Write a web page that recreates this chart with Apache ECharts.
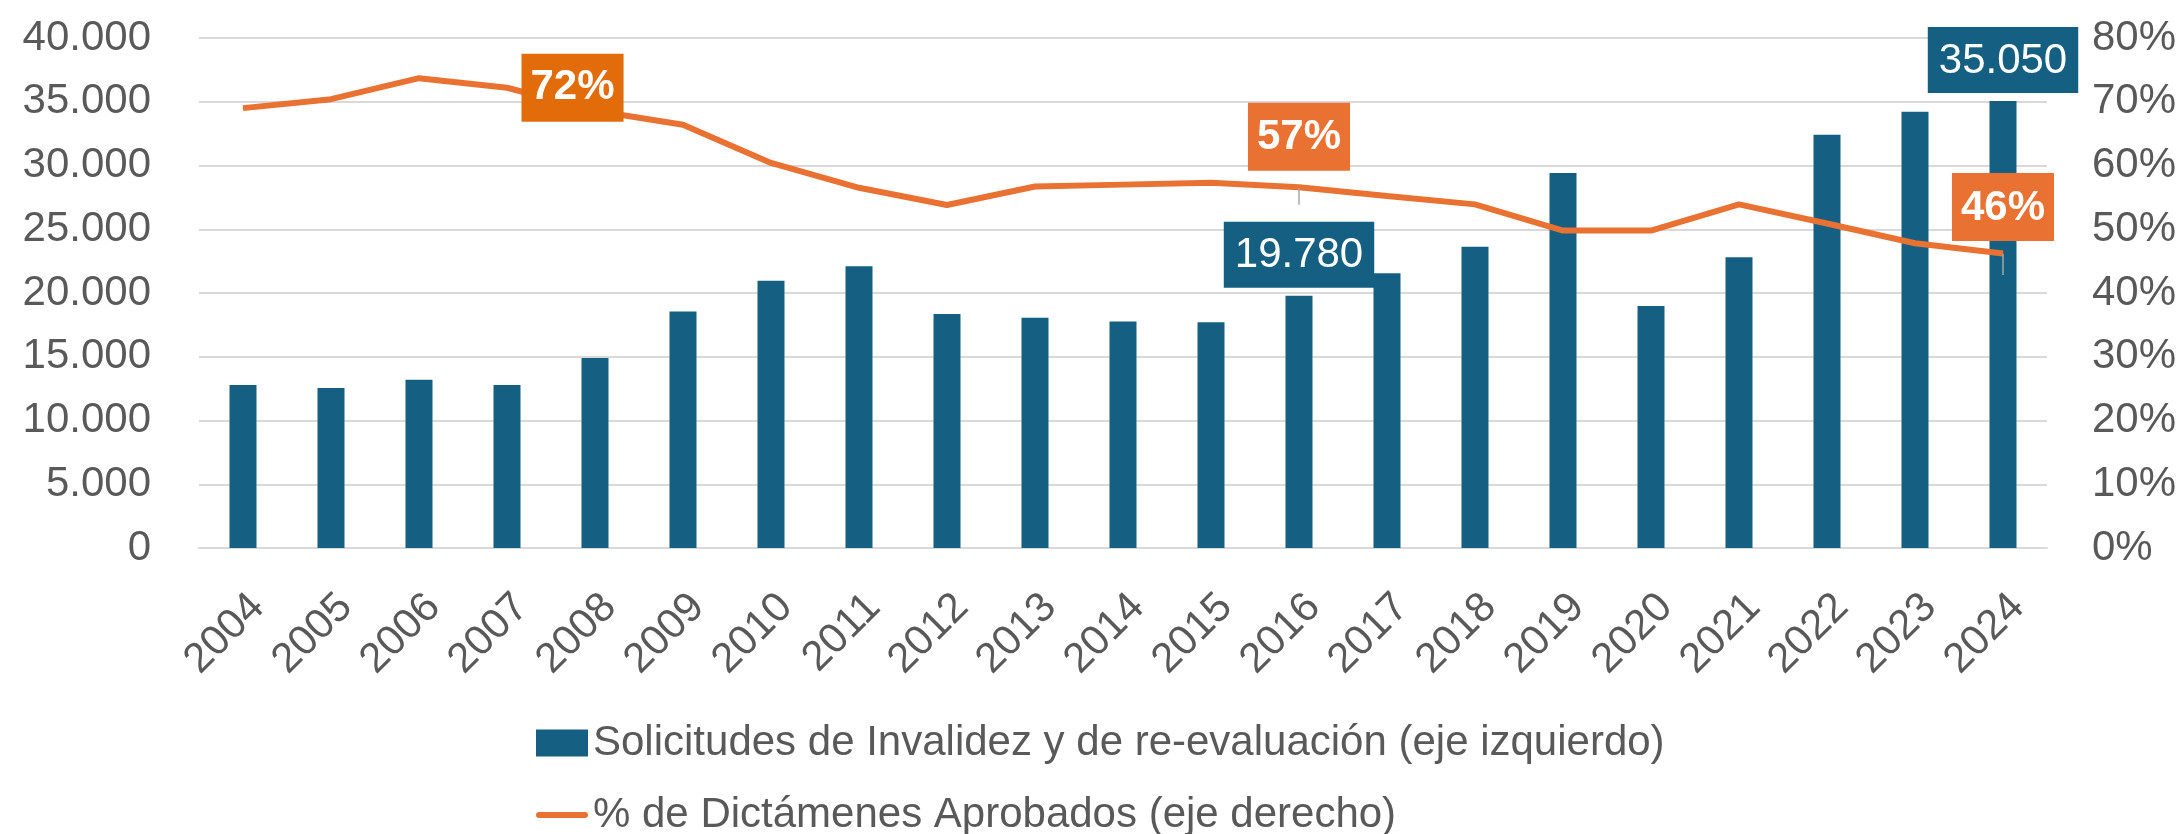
<!DOCTYPE html>
<html>
<head>
<meta charset="utf-8">
<script src="https://cdn.jsdelivr.net/npm/echarts@6.0.0/dist/echarts.min.js"></script>
<style>
  html, body { margin: 0; padding: 0; background: #fff; }
  #chart { width: 2184px; height: 834px; }
</style>
</head>
<body>
<div id="chart"></div>
<script>
  // datos
  const years = ['2004', '2005', '2006', '2007', '2008', '2009', '2010', '2011', '2012', '2013', '2014',
    '2015', '2016', '2017', '2018', '2019', '2020', '2021', '2022', '2023', '2024']
  const solicitudes = [12780, 12550, 13190, 12780, 14900, 18550, 20960, 22090, 18350, 18060, 17770,
    17710, 19780, 21540, 23620, 29420, 18990, 22810, 32410, 34210, 35050]
  const aprobados = [69.0, 70.4, 73.7, 72.2, 68.6, 66.4, 60.4, 56.5, 53.8, 56.7, 57.0,
    57.3, 56.6, 55.2, 53.9, 49.8, 49.8, 53.9, 50.9, 47.8, 46.2]
  const barLabelYears = ['2016', '2024']
  const lineLabelYears = ['2007', '2016', '2024']

  const FONT = 'Liberation Sans'
  const GREY = '#595959'
  const BLUE = '#156082'
  const ORANGE = '#E97132'
  const BAR_NAME = 'Solicitudes de Invalidez y de re-evaluación (eje izquierdo)'
  const LINE_NAME = '% de Dictámenes Aprobados (eje derecho)'

  const fmtMiles = v => String(Math.round(v)).replace(/\B(?=(\d{3})+(?!\d))/g, '.')

  const barData = solicitudes.map((v, i) => {
    if (barLabelYears.indexOf(years[i]) < 0) return v
    return {
      value: v,
      label: {
        show: true,
        position: 'top',
        distance: 8,
        formatter: p => fmtMiles(p.value),
        color: '#fff',
        fontFamily: FONT,
        fontSize: 42,
        backgroundColor: BLUE,
        padding: [13, 11, 11, 11]
      }
    }
  })

  const lineData = aprobados.map((v, i) => {
    const y = years[i]
    if (lineLabelYears.indexOf(y) < 0) return v
    const first = y === '2007'
    return {
      value: v,
      label: {
        show: true,
        position: first ? 'right' : 'top',
        distance: first ? 14 : (y === '2016' ? 16 : 12),
        formatter: p => Math.round(p.value) + '%',
        color: '#fff',
        fontFamily: FONT,
        fontWeight: 'bold',
        fontSize: 42,
        backgroundColor: first ? '#E36C0A' : ORANGE,
        padding: [14, 9, 12, 9]
      },
      labelLine: {
        show: !first,
        lineStyle: { color: '#A6A6A6', width: 1.5 }
      }
    }
  })

  const legendBase = {
    left: 531,
    itemWidth: 52,
    itemHeight: 27,
    textStyle: { color: GREY, fontSize: 42, fontFamily: FONT }
  }

  const option = {
    animation: false,
    textStyle: { fontFamily: FONT },
    grid: {
      left: 199,
      right: 137,
      top: 38,
      bottom: 286,
      outerBoundsMode: 'none'
    },
    legend: [
      Object.assign({}, legendBase, {
        top: 717,
        data: [{ name: BAR_NAME, icon: 'rect' }]
      }),
      Object.assign({}, legendBase, {
        top: 789,
        data: [{ name: LINE_NAME, icon: 'path://M3,0 L49,0 A3,3 0 0 1 49,6 L3,6 A3,3 0 0 1 3,0 Z' }]
      })
    ],
    xAxis: {
      type: 'category',
      data: years,
      axisTick: { show: false },
      axisLine: { lineStyle: { color: '#D9D9D9', width: 2 } },
      axisLabel: {
        color: GREY,
        fontSize: 42,
        rotate: 45,
        margin: 38,
        verticalAlign: 'top',
        interval: 0
      }
    },
    yAxis: [
      {
        type: 'value',
        min: 0,
        max: 40000,
        interval: 5000,
        axisLabel: { color: GREY, fontSize: 42, margin: 48, formatter: fmtMiles },
        splitLine: { lineStyle: { color: '#D9D9D9', width: 2 } }
      },
      {
        type: 'value',
        min: 0,
        max: 80,
        interval: 10,
        axisLabel: { color: GREY, fontSize: 42, margin: 45, formatter: '{value}%' },
        splitLine: { show: false }
      }
    ],
    series: [
      {
        name: BAR_NAME,
        type: 'bar',
        barWidth: 27,
        itemStyle: { color: BLUE },
        data: barData
      },
      {
        name: LINE_NAME,
        type: 'line',
        yAxisIndex: 1,
        symbol: 'circle',
        symbolSize: 1,
        showSymbol: true,
        itemStyle: { color: ORANGE },
        lineStyle: { color: ORANGE, width: 6 },
        z: 3,
        data: lineData
      }
    ]
  }

  const chart = echarts.init(document.getElementById('chart'))
  chart.setOption(option)
  window.addEventListener('resize', () => chart.resize())
</script>
</body>
</html>
